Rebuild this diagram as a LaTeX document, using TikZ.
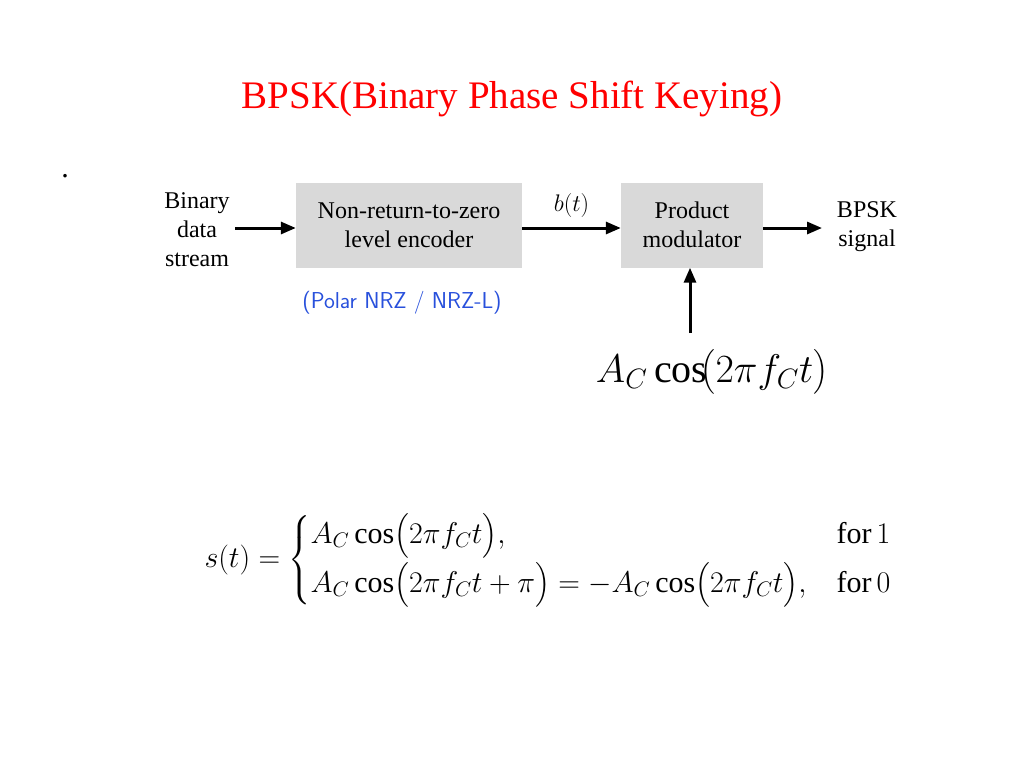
\documentclass[tikz,border=0pt]{standalone}
\usepackage{fix-cm}
\usepackage{fontspec}
\usepackage{amsmath}
\setmainfont{Liberation Serif}
\usetikzlibrary{arrows.meta}
\begin{document}
\begin{tikzpicture}[x=1pt,y=-1pt,
  blk/.style={draw=none,fill=black!15,minimum height=85pt,align=center,font=\fontsize{24}{29}\selectfont,inner sep=0pt},
  arr/.style={-{Triangle[length=15pt,width=12pt]},line width=3pt},
  lbl/.style={align=center,font=\fontsize{24}{29}\selectfont}]
\useasboundingbox[fill=white] (0,0) rectangle (1024,768);
\node (title) at (512,99) {\fontsize{39}{44}\selectfont\color{red}BPSK(Binary Phase Shift Keying)};
\node (dot) at (65,176) {\fontsize{30}{34}\selectfont .};
\node[lbl] (in) at (197,230) {Binary\\data\\stream};
\node[blk,minimum width=226pt] (enc) at (409,225) {Non-return-to-zero\\level encoder};
\node[blk,minimum width=142pt] (mod) at (692,225) {Product\\modulator};
\node[lbl] (out) at (867,227) {BPSK\\signal};
\coordinate (a1) at (235,228);
\draw[arr] (a1) -- (enc.west|-a1);
\draw[arr] (enc.east|-a1) -- node[above=6pt,font=\fontsize{24}{28}\selectfont]{$b(t)$} (mod.west|-a1);
\draw[arr] (mod.east|-a1) -- (822,228) coordinate (a2);
\node[font=\sffamily\fontsize{23}{27}\selectfont,text={rgb,255:red,40;green,80;blue,220}] (pol) at (402,303) {(Polar NRZ / NRZ-L)};
\node[font=\fontsize{40}{46}\selectfont] (car) at (712,372) {$A_C\cos\!\bigl(2\pi f_C t\bigr)$};
\coordinate (c1) at (690,333);
\draw[arr] (c1) -- (mod.south-|c1);
\node[font=\fontsize{30}{36}\selectfont] (eq) at (548,560) {$s(t)=\begin{cases}A_C\cos\bigl(2\pi f_C t\bigr), & \text{for}\,1\\[6pt]
A_C\cos\bigl(2\pi f_C t+\pi\bigr)=-A_C\cos\bigl(2\pi f_C t\bigr), & \text{for}\,0\end{cases}$};
\end{tikzpicture}
\end{document}
